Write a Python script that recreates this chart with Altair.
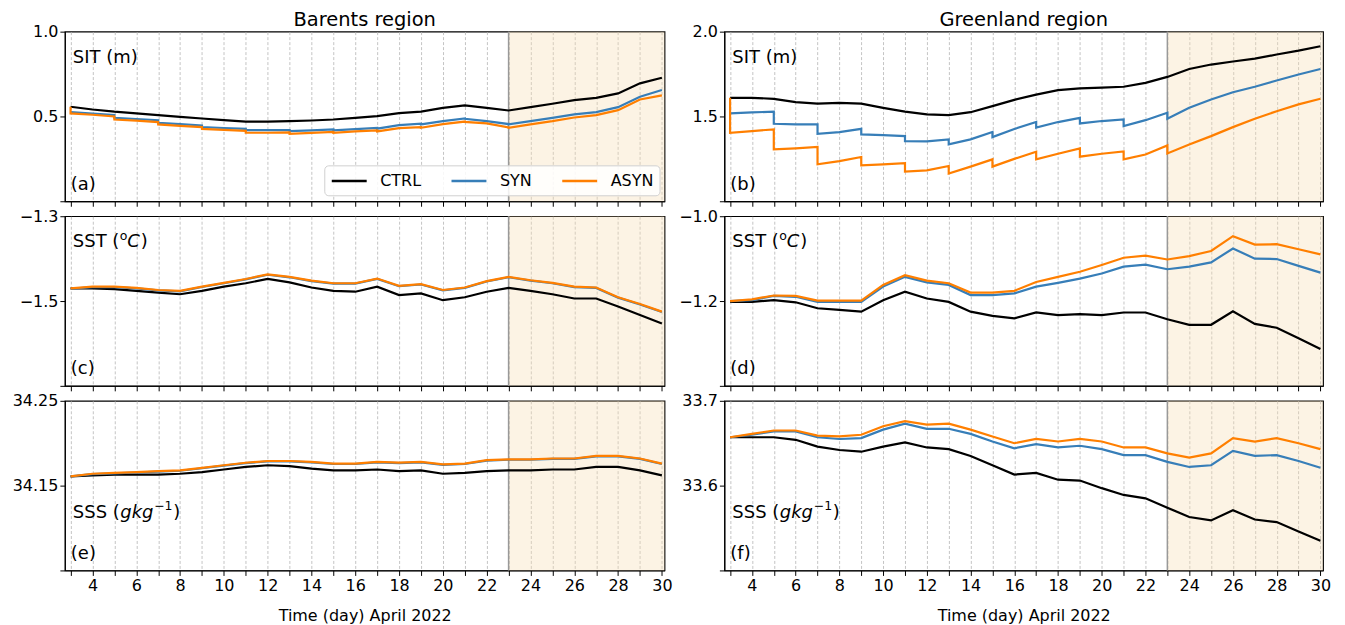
import altair as alt
import pandas as pd

# ---- data ----
DAYS = list(range(3, 31))
# sub-daily sampling: the assimilation runs jump every second day
STEP_DAYS = [3, 4, 5, 5, 6, 7, 7, 8, 9, 9, 10, 11, 11, 12, 13, 13, 14, 15, 15, 16,
             17, 17, 18, 19, 19, 20, 21, 21, 22, 23, 23, 24, 25, 26, 27, 28, 29, 30]
STEP_DAYS_ASYN = [3] + STEP_DAYS

RUNS = ["CTRL", "SYN", "ASYN"]
COLORS = ["#000000", "#377eb8", "#ff7f00"]

# Barents region
bar_sit_ctrl = [0.557, 0.541, 0.528, 0.518, 0.508, 0.498, 0.488, 0.478, 0.470, 0.469,
                0.472, 0.476, 0.482, 0.492, 0.502, 0.520, 0.528, 0.551, 0.565, 0.551,
                0.535, 0.555, 0.575, 0.596, 0.610, 0.636, 0.695, 0.728]
bar_sit_syn = [0.526, 0.517, 0.508, 0.492, 0.485, 0.478, 0.463, 0.455, 0.447, 0.437,
               0.432, 0.427, 0.419, 0.419, 0.419, 0.413, 0.418, 0.423, 0.418, 0.425,
               0.433, 0.428, 0.449, 0.457, 0.453, 0.472, 0.488, 0.486, 0.472, 0.455,
               0.453, 0.472, 0.492, 0.512, 0.526, 0.555, 0.616, 0.656]
bar_sit_asyn = [0.557, 0.518, 0.510, 0.500, 0.482, 0.475, 0.467, 0.453, 0.445, 0.437,
                0.427, 0.421, 0.415, 0.404, 0.404, 0.406, 0.398, 0.403, 0.409, 0.404,
                0.412, 0.418, 0.412, 0.431, 0.437, 0.433, 0.455, 0.470, 0.468, 0.459,
                0.435, 0.433, 0.453, 0.472, 0.494, 0.508, 0.537, 0.600, 0.624]

bar_sst_ctrl = [-1.470, -1.470, -1.472, -1.476, -1.480, -1.484, -1.476, -1.466, -1.458, -1.448,
                -1.456, -1.468, -1.476, -1.478, -1.466, -1.486, -1.482, -1.498, -1.491, -1.478,
                -1.469, -1.476, -1.484, -1.494, -1.494, -1.513, -1.533, -1.553]
bar_sst_syn = [-1.471, -1.467, -1.467, -1.470, -1.475, -1.477, -1.467, -1.458, -1.449, -1.438,
               -1.444, -1.453, -1.459, -1.459, -1.448, -1.465, -1.461, -1.475, -1.469, -1.454,
               -1.444, -1.452, -1.458, -1.467, -1.469, -1.492, -1.508, -1.526]
bar_sst_asyn = [-1.470, -1.466, -1.466, -1.469, -1.474, -1.476, -1.466, -1.457, -1.448, -1.437,
                -1.443, -1.452, -1.458, -1.458, -1.447, -1.464, -1.460, -1.474, -1.468, -1.453,
                -1.443, -1.451, -1.457, -1.466, -1.468, -1.491, -1.507, -1.525]

bar_sss_ctrl = [34.161, 34.162, 34.163, 34.163, 34.163, 34.164, 34.166, 34.169, 34.172, 34.174,
                34.173, 34.170, 34.168, 34.168, 34.169, 34.167, 34.168, 34.164, 34.165, 34.167,
                34.168, 34.168, 34.169, 34.169, 34.172, 34.172, 34.168, 34.162]
bar_sss_syn = [34.161, 34.1635, 34.1645, 34.1655, 34.1665, 34.1675, 34.1705, 34.1735, 34.1765, 34.1785,
               34.1785, 34.1775, 34.1755, 34.1755, 34.1775, 34.1765, 34.1775, 34.1745, 34.1755, 34.1795,
               34.1805, 34.1805, 34.1815, 34.1815, 34.1845, 34.1845, 34.1815, 34.1755]
bar_sss_asyn = [34.161, 34.164, 34.165, 34.166, 34.167, 34.168, 34.171, 34.174, 34.177, 34.179,
                34.179, 34.178, 34.176, 34.176, 34.178, 34.177, 34.178, 34.175, 34.176, 34.180,
                34.181, 34.181, 34.182, 34.182, 34.185, 34.185, 34.182, 34.176]

# Greenland region
gre_sit_ctrl = [1.610, 1.610, 1.604, 1.584, 1.576, 1.580, 1.576, 1.551, 1.528, 1.512,
                1.508, 1.525, 1.561, 1.598, 1.629, 1.655, 1.665, 1.670, 1.675, 1.698,
                1.733, 1.780, 1.806, 1.824, 1.841, 1.865, 1.888, 1.914]
gre_sit_syn = [1.518, 1.524, 1.528, 1.457, 1.453, 1.453, 1.398, 1.408, 1.427, 1.394,
               1.390, 1.384, 1.355, 1.353, 1.365, 1.335, 1.365, 1.408, 1.378, 1.426,
               1.467, 1.435, 1.467, 1.492, 1.459, 1.473, 1.482, 1.443, 1.478, 1.522,
               1.486, 1.551, 1.600, 1.643, 1.675, 1.712, 1.747, 1.780]
gre_sit_asyn = [1.610, 1.404, 1.414, 1.424, 1.306, 1.312, 1.320, 1.218, 1.237, 1.261,
                1.212, 1.218, 1.224, 1.175, 1.182, 1.208, 1.163, 1.204, 1.247, 1.204,
                1.250, 1.292, 1.247, 1.280, 1.312, 1.263, 1.280, 1.294, 1.247, 1.276,
                1.329, 1.282, 1.335, 1.384, 1.437, 1.486, 1.531, 1.571, 1.604]

gre_sst_ctrl = [-1.202, -1.202, -1.198, -1.203, -1.217, -1.221, -1.225, -1.198, -1.178, -1.194,
                -1.202, -1.225, -1.235, -1.241, -1.227, -1.233, -1.231, -1.233, -1.227, -1.227,
                -1.243, -1.256, -1.256, -1.224, -1.254, -1.263, -1.288, -1.313]
gre_sst_syn = [-1.200, -1.198, -1.188, -1.190, -1.202, -1.202, -1.202, -1.166, -1.143, -1.156,
               -1.162, -1.186, -1.186, -1.182, -1.166, -1.157, -1.147, -1.135, -1.119, -1.114,
               -1.125, -1.119, -1.109, -1.076, -1.100, -1.101, -1.117, -1.133]
gre_sst_asyn = [-1.200, -1.196, -1.187, -1.188, -1.199, -1.199, -1.199, -1.162, -1.139, -1.152,
                -1.158, -1.180, -1.180, -1.176, -1.155, -1.143, -1.131, -1.115, -1.098, -1.093,
                -1.102, -1.094, -1.082, -1.047, -1.067, -1.066, -1.078, -1.090]

gre_sss_ctrl = [33.657, 33.657, 33.657, 33.654, 33.646, 33.642, 33.640, 33.646, 33.651, 33.645,
                33.643, 33.635, 33.624, 33.613, 33.615, 33.607, 33.606, 33.597, 33.589, 33.585,
                33.574, 33.563, 33.559, 33.571, 33.560, 33.557, 33.546, 33.535]
gre_sss_syn = [33.657, 33.660, 33.664, 33.664, 33.657, 33.655, 33.656, 33.666, 33.673, 33.667,
               33.667, 33.661, 33.652, 33.644, 33.649, 33.645, 33.647, 33.643, 33.636, 33.636,
               33.628, 33.622, 33.624, 33.641, 33.635, 33.636, 33.629, 33.621]
gre_sss_asyn = [33.657, 33.661, 33.665, 33.665, 33.659, 33.658, 33.660, 33.670, 33.676, 33.672,
                33.673, 33.666, 33.658, 33.650, 33.655, 33.652, 33.655, 33.652, 33.645, 33.645,
                33.638, 33.633, 33.638, 33.656, 33.652, 33.656, 33.650, 33.643]

XDOM = [2.74, 30.12]
ASSIM_END = 23
FONT = "DejaVu Sans"
TXT = 18
W_LEFT, W_RIGHT, H = 601, 600, 170


def x_enc(bottom):
    axis_kw = dict(
        values=DAYS,
        labelExpr="datum.value % 2 == 0 ? datum.label : ''",
        grid=True, gridDash=[3, 2], gridColor="#b5b5b5", gridWidth=0.8,
        labels=bottom,
        format="d",
    )
    if bottom:
        axis_kw.update(title="Time (day) April 2022", titleFontSize=16,
                       titleFontWeight="normal", titlePadding=14)
    else:
        axis_kw.update(title="")
    return alt.X("day:Q", scale=alt.Scale(domain=XDOM, nice=False, zero=False),
                 axis=alt.Axis(**axis_kw))


def text_layer(segments, x0, y0):
    layers = []
    for txt, dx, dy, size, style in segments:
        layers.append(
            alt.Chart(pd.DataFrame({"t": [txt]}))
            .mark_text(align="left", baseline="alphabetic", font=FONT,
                       fontSize=size, fontStyle=style, color="black")
            .encode(text="t:N", x=alt.value(x0 + dx), y=alt.value(y0 + dy))
        )
    return layers


def panel(series, ydom, yfmt, name_segments, name_y, letter, width,
          title=None, bottom=False, legend=False):
    rows = []
    for run, days, vals in series:
        for i, (d, v) in enumerate(zip(days, vals)):
            rows.append(dict(day=d, value=v, run=run, idx=i))
    df = pd.DataFrame(rows)

    xe = x_enc(bottom)
    lo, hi = ydom
    ye = alt.Y("value:Q", scale=alt.Scale(domain=ydom, nice=False, zero=False),
               axis=alt.Axis(values=[lo, (lo + hi) / 2, hi], format=yfmt, title="",
                             labelExpr=f"datum.value < {lo + (hi - lo) * 0.01} ? '' : datum.label"))

    shade = (
        alt.Chart(pd.DataFrame({"day": [ASSIM_END], "day2": [XDOM[1]]}))
        .mark_rect(color="#f5deb3", opacity=0.35)
        .encode(x=xe, x2="day2:Q")
    )
    rule = (
        alt.Chart(pd.DataFrame({"day": [ASSIM_END]}))
        .mark_rule(color="#999999", strokeWidth=1.5)
        .encode(x=xe)
    )
    if legend:
        # long horizontal stroke for the symbol, like matplotlib's handles
        leg = alt.Legend(title=None, orient="none", legendX=260, legendY=134,
                         direction="horizontal", columns=3,
                         symbolType="M-1,0H3.375", symbolSize=256,
                         symbolStrokeWidth=2.5, labelFontSize=16,
                         labelFont=FONT, labelOffset=31, columnPadding=25,
                         padding=6, fillColor="rgba(255,255,255,0.85)",
                         strokeColor="#d0d0d0", cornerRadius=4)
    else:
        leg = None
    lines = (
        alt.Chart(df)
        .mark_line(strokeWidth=2.2, clip=True)
        .encode(
            x=xe, y=ye,
            color=alt.Color("run:N", scale=alt.Scale(domain=RUNS, range=COLORS),
                            sort=RUNS, legend=leg),
            order=alt.Order("idx:Q"),
        )
    )
    texts = text_layer(name_segments, 8, name_y) + text_layer([(f"({letter})", 0, 0, TXT, "normal")], 6, 158.5)
    chart = alt.layer(shade, rule, lines, *texts).properties(width=width, height=H)
    if title:
        chart = chart.properties(title=alt.TitleParams(title, fontSize=19.5, fontWeight="normal",
                                                       font=FONT, offset=-7, anchor="middle"))
    return chart


SIT = [("SIT (m)", 0, 0, TXT, "normal")]
SST = [("SST (", 0, 0, TXT, "normal"), ("o", 47, -7.5, 12.5, "normal"),
       ("C", 54.5, 0, TXT, "italic"), (")", 68, 0, TXT, "normal")]
SSS = [("SSS (", 0, 0, TXT, "normal"), ("gkg", 47.5, 0, TXT, "italic"),
       ("\u22121", 81.5, -7.5, 12.5, "normal"), (")", 100.5, 0, TXT, "normal")]

panels = [
    panel([("CTRL", DAYS, bar_sit_ctrl), ("SYN", STEP_DAYS, bar_sit_syn), ("ASYN", STEP_DAYS_ASYN, bar_sit_asyn)],
          [0.0, 1.0], ".1f", SIT, 31, "a", W_LEFT, title="Barents region", legend=True),
    panel([("CTRL", DAYS, gre_sit_ctrl), ("SYN", STEP_DAYS, gre_sit_syn), ("ASYN", STEP_DAYS_ASYN, gre_sit_asyn)],
          [1.0, 2.0], ".1f", SIT, 31, "b", W_RIGHT, title="Greenland region"),
    panel([("CTRL", DAYS, bar_sst_ctrl), ("SYN", DAYS, bar_sst_syn), ("ASYN", DAYS, bar_sst_asyn)],
          [-1.7, -1.3], ".1f", SST, 31, "c", W_LEFT),
    panel([("CTRL", DAYS, gre_sst_ctrl), ("SYN", DAYS, gre_sst_syn), ("ASYN", DAYS, gre_sst_asyn)],
          [-1.4, -1.0], ".1f", SST, 31, "d", W_RIGHT),
    panel([("CTRL", DAYS, bar_sss_ctrl), ("SYN", DAYS, bar_sss_syn), ("ASYN", DAYS, bar_sss_asyn)],
          [34.05, 34.25], ".2f", SSS, 117, "e", W_LEFT, bottom=True),
    panel([("CTRL", DAYS, gre_sss_ctrl), ("SYN", DAYS, gre_sss_syn), ("ASYN", DAYS, gre_sss_asyn)],
          [33.5, 33.7], ".1f", SSS, 117, "f", W_RIGHT, bottom=True),
]

chart = (
    alt.concat(*panels, columns=2, spacing={"row": 15, "column": 60}, bounds="flush")
    .resolve_scale(color="independent")
    .properties(padding={"left": 3, "top": 0, "right": 5, "bottom": 0})
    .configure(font=FONT)
    .configure_view(stroke="black", strokeWidth=1.2)
    .configure_axis(labelFont=FONT, labelFontSize=16, labelColor="black",
                    tickColor="black", tickSize=5, domainColor="black",
                    labelPadding=2, labelFlush=False, labelOverlap=False,
                    titleFont=FONT, titleColor="black", grid=False)
)

chart.save("out.html", embed_options={"renderer": "svg", "actions": False})
